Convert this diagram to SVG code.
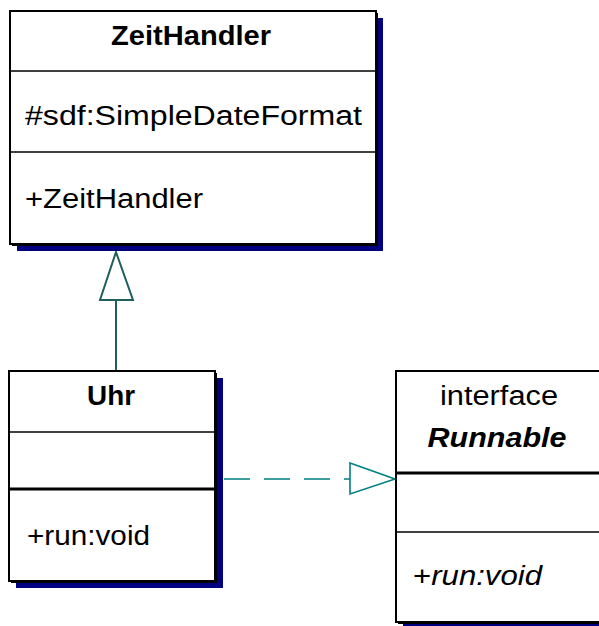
<svg xmlns="http://www.w3.org/2000/svg" width="599" height="626" viewBox="0 0 599 626">
<style>
.sh{fill:#000080}
.sb{fill:#000}
.box{fill:#fff;stroke:#000;stroke-width:2}
.div{stroke:#000;stroke-width:1.5}
.divt{stroke:#000;stroke-width:3}
text{font-family:"Liberation Sans",Arial,sans-serif;font-size:27px;fill:#000}
.b{font-weight:bold}
.c{text-anchor:middle}
.i{font-style:italic}
</style>
<rect width="599" height="626" fill="#fff"/>
<g id="connectors">
  <line x1="116" y1="300" x2="116" y2="371" stroke="#215e5e" stroke-width="2"/>
  <polygon points="116,252 133,300 100,300" fill="#fff" stroke="#215e5e" stroke-width="2"/>
  <line x1="224" y1="479" x2="350" y2="479" stroke="#008080" stroke-width="1.5" stroke-dasharray="26,14"/>
  <polygon points="350,463 395,479 350,494" fill="#fff" stroke="#008080" stroke-width="1.6"/>
</g>
<g id="ZeitHandler">
  <rect class="sh" x="17" y="18" width="366" height="233"/>
  <rect class="sb" x="12" y="13" width="366" height="233"/>
  <rect class="box" x="10" y="11" width="366" height="233"/>
  <line class="div" x1="10" y1="71" x2="376" y2="71"/>
  <line class="div" x1="10" y1="152" x2="376" y2="152"/>
  <text class="b c" x="191" y="45" textLength="160" lengthAdjust="spacingAndGlyphs">ZeitHandler</text>
  <text x="25" y="125" textLength="337" lengthAdjust="spacingAndGlyphs">#sdf:SimpleDateFormat</text>
  <text x="25" y="208" textLength="178" lengthAdjust="spacingAndGlyphs">+ZeitHandler</text>
</g>
<g id="Uhr">
  <rect class="sh" x="16" y="378" width="207" height="210"/>
  <rect class="sb" x="11" y="373" width="206" height="210"/>
  <rect class="box" x="9" y="371" width="206" height="210"/>
  <line class="div" x1="9" y1="432" x2="215" y2="432"/>
  <line class="divt" x1="9" y1="489" x2="215" y2="489"/>
  <text class="b c" x="111" y="405" textLength="48" lengthAdjust="spacingAndGlyphs">Uhr</text>
  <text x="27" y="545" textLength="123" lengthAdjust="spacingAndGlyphs">+run:void</text>
</g>
<g id="Runnable">
  <rect class="sh" x="403" y="378" width="210" height="251"/>
  <rect class="sb" x="398" y="373" width="210" height="251"/>
  <rect class="box" x="396" y="371" width="210" height="251"/>
  <line class="divt" x1="396" y1="473" x2="606" y2="473"/>
  <line class="div" x1="396" y1="532" x2="606" y2="532"/>
  <text class="c" x="499" y="405" textLength="118" lengthAdjust="spacingAndGlyphs">interface</text>
  <text class="b i c" x="497" y="447" textLength="139" lengthAdjust="spacingAndGlyphs">Runnable</text>
  <text x="413" y="585" textLength="129" lengthAdjust="spacingAndGlyphs">+<tspan class="i">run:void</tspan></text>
</g>
</svg>
